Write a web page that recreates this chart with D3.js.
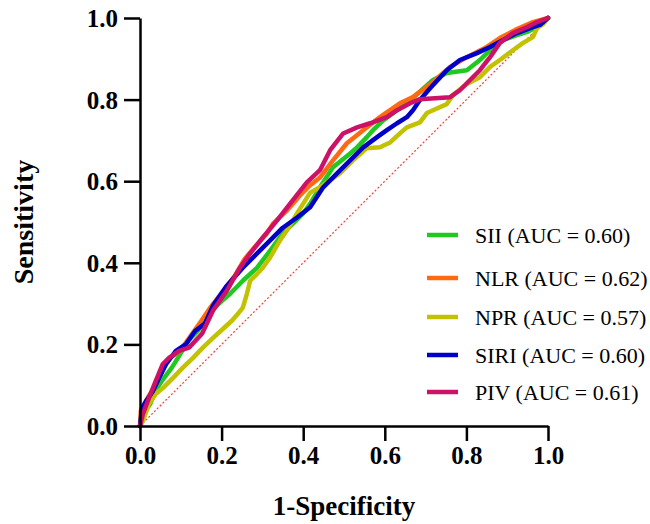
<!DOCTYPE html>
<html>
<head>
<meta charset="utf-8">
<script src="https://cdn.jsdelivr.net/npm/d3@7"></script>
<style>
  body { margin: 0; background: #fff; }
  #chart { width: 650px; height: 524px; }
  text { font-family: "Liberation Serif", "Times New Roman", serif; fill: #000; }
</style>
</head>
<body>
<div id="chart"></div>
<script>
// ROC points as [1-specificity, sensitivity]
const sii = [[0,0],[0.007,0.029],[0.025,0.054],[0.037,0.086],[0.054,0.111],[0.078,0.143],[0.093,0.167],
  [0.118,0.209],[0.142,0.233],[0.167,0.275],[0.201,0.307],[0.221,0.324],[0.252,0.356],[0.287,0.388],
  [0.319,0.430],[0.350,0.472],[0.375,0.496],[0.400,0.521],[0.417,0.545],[0.441,0.585],[0.473,0.634],
  [0.515,0.668],[0.532,0.683],[0.556,0.708],[0.571,0.725],[0.596,0.749],[0.630,0.774],[0.654,0.791],
  [0.679,0.813],[0.718,0.848],[0.752,0.865],[0.801,0.872],[0.833,0.897],[0.858,0.921],[0.890,0.946],
  [0.924,0.958],[0.949,0.966],[0.973,0.978],[1,1]];

const nlr = [[0,0],[0.002,0.037],[0.017,0.066],[0.037,0.098],[0.056,0.140],[0.074,0.167],[0.098,0.184],
  [0.123,0.219],[0.147,0.253],[0.172,0.290],[0.201,0.327],[0.233,0.369],[0.257,0.410],[0.284,0.442],
  [0.311,0.472],[0.326,0.496],[0.360,0.528],[0.392,0.565],[0.417,0.590],[0.441,0.609],[0.473,0.651],
  [0.507,0.693],[0.547,0.725],[0.588,0.757],[0.613,0.774],[0.637,0.791],[0.669,0.806],[0.718,0.843],
  [0.760,0.880],[0.801,0.904],[0.850,0.929],[0.882,0.951],[0.924,0.973],[0.963,0.990],[1,1]];

const npr = [[0,0],[0.007,0.012],[0.022,0.054],[0.039,0.079],[0.056,0.093],[0.081,0.118],[0.105,0.143],
  [0.130,0.167],[0.154,0.192],[0.179,0.216],[0.201,0.236],[0.225,0.258],[0.240,0.275],[0.252,0.290],
  [0.262,0.324],[0.270,0.356],[0.287,0.373],[0.301,0.388],[0.319,0.413],[0.343,0.455],[0.360,0.479],
  [0.385,0.521],[0.400,0.545],[0.417,0.572],[0.441,0.585],[0.458,0.597],[0.490,0.619],[0.522,0.651],
  [0.556,0.681],[0.588,0.683],[0.613,0.695],[0.637,0.717],[0.654,0.732],[0.686,0.744],[0.703,0.767],
  [0.718,0.774],[0.752,0.789],[0.767,0.811],[0.801,0.838],[0.833,0.855],[0.858,0.880],[0.882,0.897],
  [0.914,0.921],[0.939,0.939],[0.963,0.953],[0.973,0.975],[0.988,0.985],[1,1]];

const siri = [[0,0],[0.005,0.044],[0.015,0.061],[0.032,0.086],[0.047,0.118],[0.064,0.152],[0.088,0.184],
  [0.113,0.201],[0.135,0.233],[0.159,0.251],[0.179,0.295],[0.213,0.344],[0.252,0.388],[0.287,0.423],
  [0.319,0.455],[0.350,0.486],[0.385,0.511],[0.417,0.536],[0.449,0.585],[0.483,0.619],[0.515,0.651],
  [0.547,0.683],[0.581,0.708],[0.605,0.725],[0.630,0.742],[0.654,0.757],[0.669,0.774],[0.686,0.799],
  [0.711,0.828],[0.752,0.872],[0.784,0.897],[0.826,0.914],[0.858,0.929],[0.890,0.946],[0.924,0.963],
  [0.956,0.975],[0.980,0.983],[1,1]];

const piv = [[0,0],[0.007,0.029],[0.022,0.069],[0.039,0.111],[0.056,0.152],[0.071,0.167],[0.096,0.184],
  [0.120,0.192],[0.152,0.226],[0.179,0.283],[0.213,0.332],[0.245,0.388],[0.270,0.423],[0.301,0.462],
  [0.336,0.504],[0.368,0.545],[0.409,0.597],[0.441,0.627],[0.466,0.676],[0.498,0.717],[0.532,0.732],
  [0.564,0.742],[0.605,0.757],[0.630,0.774],[0.662,0.791],[0.686,0.801],[0.760,0.806],[0.784,0.823],
  [0.809,0.848],[0.833,0.872],[0.858,0.904],[0.882,0.939],[0.914,0.963],[0.949,0.978],[0.973,0.990],[1,1]];

const seriesNames = ["SII", "NLR", "NPR", "SIRI", "PIV"];
const aucValues = ["0.60", "0.62", "0.57", "0.60", "0.61"];
const tickValues = [0, 0.2, 0.4, 0.6, 0.8, 1.0];

const colors = {
  SII: "#20c820",
  NLR: "#ff6a10",
  NPR: "#c2c200",
  SIRI: "#0000c8",
  PIV: "#cc1166"
};
const seriesData = { SII: sii, NLR: nlr, NPR: npr, SIRI: siri, PIV: piv };

// draw order (last on top)
const drawOrder = ["SII", "NPR", "NLR", "SIRI", "PIV"];

const width = 650, height = 524;
const plotLeft = 140, plotRight = 548, plotTop = 18, plotBottom = 426;

const svg = d3.select("#chart").append("svg")
  .attr("width", width)
  .attr("height", height);

const x = d3.scaleLinear().domain([0, 1]).range([plotLeft, plotRight]);
const y = d3.scaleLinear().domain([0, 1]).range([plotBottom, plotTop]);

// reference diagonal
svg.append("line")
  .attr("x1", x(0)).attr("y1", y(0))
  .attr("x2", x(1)).attr("y2", y(1))
  .attr("stroke", "#ff3b3b")
  .attr("stroke-width", 1.2)
  .attr("stroke-dasharray", "2,2");

const line = d3.line()
  .x(d => x(d[0]))
  .y(d => y(d[1]));

drawOrder.forEach(name => {
  svg.append("path")
    .datum(seriesData[name])
    .attr("fill", "none")
    .attr("stroke", colors[name])
    .attr("stroke-width", 4.5)
    .attr("stroke-linejoin", "round")
    .attr("stroke-linecap", "round")
    .attr("d", line);
});

// axes
const fmt = d3.format(".1f");

const yAxis = svg.append("g")
  .attr("transform", `translate(${plotLeft},0)`)
  .call(d3.axisLeft(y).tickValues(tickValues).tickFormat(fmt).tickSize(16).tickSizeOuter(0).tickPadding(6));

const xAxis = svg.append("g")
  .attr("transform", `translate(0,${plotBottom})`)
  .call(d3.axisBottom(x).tickValues(tickValues).tickFormat(fmt).tickSize(15).tickSizeOuter(0).tickPadding(5));

[xAxis, yAxis].forEach(ax => {
  ax.select(".domain").attr("stroke", "#000").attr("stroke-width", 2.5);
  ax.selectAll(".tick line").attr("stroke", "#000").attr("stroke-width", 2.5);
  ax.selectAll(".tick text")
    .attr("fill", "#000")
    .style("font-family", '"Liberation Serif", "Times New Roman", serif')
    .style("font-weight", "bold")
    .style("font-size", "25px");
});
yAxis.selectAll(".tick text").attr("dy", "0.34em");
xAxis.selectAll(".tick text").attr("dy", "0.72em");

// axis titles
svg.append("text")
  .attr("x", (plotLeft + plotRight) / 2)
  .attr("y", 515)
  .attr("text-anchor", "middle")
  .style("font-weight", "bold")
  .style("font-size", "27px")
  .text("1-Specificity");

svg.append("text")
  .attr("transform", `translate(33,${(plotTop + plotBottom) / 2}) rotate(-90)`)
  .attr("text-anchor", "middle")
  .style("font-weight", "bold")
  .style("font-size", "28px")
  .text("Sensitivity");

// legend
const legendY = [235, 278, 317, 355, 392];
const legend = svg.append("g");
seriesNames.forEach((name, i) => {
  legend.append("line")
    .attr("x1", 427).attr("x2", 458)
    .attr("y1", legendY[i]).attr("y2", legendY[i])
    .attr("stroke", colors[name])
    .attr("stroke-width", 4.5);
  legend.append("text")
    .attr("x", 475)
    .attr("y", legendY[i] + 7.5)
    .style("font-size", "22px")
    .text(`${name} (AUC = ${aucValues[i]})`);
});
</script>
</body>
</html>
